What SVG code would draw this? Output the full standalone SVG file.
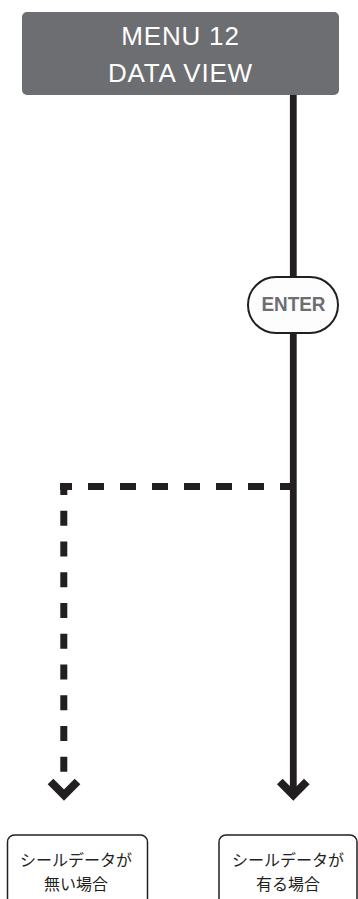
<svg xmlns="http://www.w3.org/2000/svg" width="358" height="899" viewBox="0 0 358 899">
  <style>
    .menu-box { fill: #6d6e71; }
    .menu-text { font-family: "Liberation Sans", Arial, sans-serif; font-size: 26px; fill: #ffffff; text-anchor: middle; letter-spacing: 0.8px; }
    .line { stroke: #231f20; stroke-width: 6.8; fill: none; }
    .dash { stroke: #231f20; stroke-width: 7; fill: none; stroke-linecap: butt; }
    .chev { stroke: #231f20; stroke-width: 8; fill: none; stroke-linecap: butt; stroke-linejoin: miter; }
    .pill { fill: #fdfdfd; stroke: #231f20; stroke-width: 2; }
    .enter-text { font-family: "Liberation Sans", Arial, sans-serif; font-size: 21px; font-weight: bold; fill: #6d6e71; text-anchor: middle; }
    .result-box { fill: #ffffff; stroke: #231f20; stroke-width: 1.5; }
    .result-text { font-family: "Noto Sans CJK JP", "Noto Sans CJK SC", sans-serif; font-size: 16px; fill: #231f20; text-anchor: middle; }
  </style>
  <rect width="358" height="899" fill="#ffffff"/>
  <g id="connectors">
    <path class="line" d="M293.3 95 V796"/>
    <path class="dash" d="M60 486.5 H290" stroke-dasharray="16 16" stroke-dashoffset="4"/>
    <path class="dash" d="M63.8 483 V773" stroke-dasharray="15 15.75" stroke-dashoffset="3"/>
    <polyline class="chev" points="279.8,781.5 293.3,795 306.8,781.5"/>
    <polyline class="chev" points="50.5,781.5 64,795 77.5,781.5"/>
  </g>
  <g id="menu12">
    <rect class="menu-box" x="22" y="12" width="317" height="83" rx="5"/>
    <text class="menu-text" x="180.5" y="45">MENU 12</text>
    <text class="menu-text" x="180.5" y="82">DATA VIEW</text>
  </g>
  <g id="enter">
    <rect class="pill" x="248" y="277" width="90" height="56" rx="28"/>
    <text class="enter-text" x="293.5" y="311" textLength="64" lengthAdjust="spacingAndGlyphs">ENTER</text>
  </g>
  <g id="no-data">
    <rect class="result-box" x="7.5" y="835" width="140" height="80" rx="7"/>
    <text class="result-text" x="76" y="865.5">シールデータが</text>
    <text class="result-text" x="76" y="889.5">無い場合</text>
  </g>
  <g id="has-data">
    <rect class="result-box" x="219" y="835" width="138" height="80" rx="7"/>
    <text class="result-text" x="288" y="865.5">シールデータが</text>
    <text class="result-text" x="288" y="889.5">有る場合</text>
  </g>
</svg>
